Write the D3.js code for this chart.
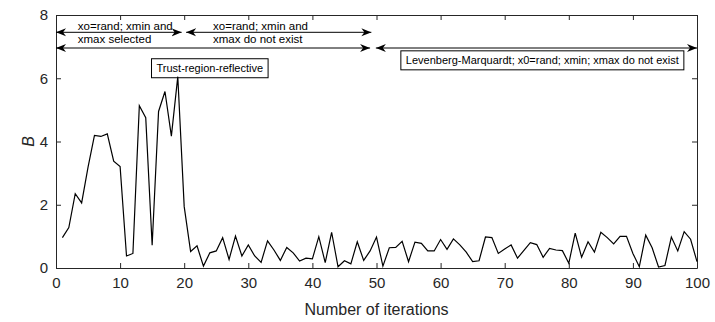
<!DOCTYPE html>
<html><head><meta charset="utf-8">
<script src="https://cdn.jsdelivr.net/npm/d3@7"></script>
<style>
body{margin:0;background:#fff;}
svg{display:block;font-family:"Liberation Sans",Arial,sans-serif;}
</style></head>
<body><svg id="c" width="715" height="322"></svg>
<script>
const iterations = d3.range(1, 101);
const Bvalues = [
0.96,1.28,2.35,2.06,3.19,4.19,4.16,4.24,3.38,3.21,
0.38,0.46,5.13,4.75,0.72,4.95,5.58,4.17,6.05,1.94,
0.52,0.70,0.06,0.48,0.54,0.96,0.27,1.01,0.38,0.73,
0.38,0.18,0.86,0.57,0.24,0.65,0.48,0.22,0.31,0.29,
0.99,0.17,1.13,0.04,0.23,0.13,0.83,0.24,0.54,0.98,
0.06,0.64,0.65,0.84,0.20,0.82,0.78,0.54,0.54,0.90,
0.59,0.92,0.73,0.50,0.20,0.23,0.98,0.96,0.46,0.60,
0.73,0.31,0.56,0.80,0.74,0.34,0.62,0.57,0.55,0.15,
1.10,0.34,0.83,0.50,1.13,0.96,0.76,1.00,1.00,0.46,
0.04,1.04,0.64,0.03,0.08,0.98,0.54,1.15,0.91,0.20];
const xTicks = [0,10,20,30,40,50,60,70,80,90,100];
const yTicks = [0,2,4,6,8];
const xLabel = "Number of iterations";
const yLabel = "B";
// annotation arrows: [from, to, row]
const arrowSpans = [[0,19.6,1],[20.3,49.2,1],[0,49.0,2],[49.9,100,2]];
const arrowTexts = [
  {x:3.4, lines:["xo=rand; xmin and","xmax selected"]},
  {x:24.5, lines:["xo=rand; xmin and","xmax do not exist"]}
];
const boxes = [
  {x:14.9, y:6.19, text:"Trust-region-reflective"},
  {x:53.8, y:6.44, text:"Levenberg-Marquardt; x0=rand; xmin; xmax do not exist"}
];

const svg = d3.select("#c");
const m = {l:56, r:18, t:15, b:54};
const W = 715, H = 322;
const x = d3.scaleLinear().domain([0,100]).range([m.l, W-m.r]);
const y = d3.scaleLinear().domain([0,8]).range([H-m.b, m.t]);

const defs = svg.append("defs");
defs.append("marker").attr("id","ah").attr("viewBox","0 0 10 10")
  .attr("refX",10).attr("refY",5).attr("markerWidth",10).attr("markerHeight",10)
  .attr("markerUnits","userSpaceOnUse").attr("orient","auto-start-reverse")
  .append("path").attr("d","M0,1 L10,5 L0,9 L3,5 Z").attr("fill","#000");

// axes
const ax = svg.append("g").attr("font-size",15).attr("fill","#262626");
const xb = d3.axisBottom(x).tickValues(xTicks).tickSizeInner(-5).tickSizeOuter(0).tickPadding(9);
ax.append("g").attr("transform",`translate(0,${H-m.b})`).call(xb);
const xt = d3.axisTop(x).tickValues(xTicks).tickSizeInner(-5).tickSizeOuter(0).tickFormat("");
ax.append("g").attr("transform",`translate(0,${m.t})`).call(xt);
const yl = d3.axisLeft(y).tickValues(yTicks).tickSizeInner(-5).tickSizeOuter(0).tickPadding(8);
ax.append("g").attr("transform",`translate(${m.l},0)`).call(yl);
const yr = d3.axisRight(y).tickValues(yTicks).tickSizeInner(-5).tickSizeOuter(0).tickFormat("");
ax.append("g").attr("transform",`translate(${W-m.r},0)`).call(yr);
svg.selectAll(".domain").attr("stroke","#262626").attr("stroke-width",1);
svg.selectAll(".tick line").attr("stroke","#262626");
svg.selectAll(".tick text").attr("fill","#262626").attr("font-size",15)
  .attr("font-family","'Liberation Sans',Arial,sans-serif");

svg.append("text").attr("x",(x(0)+x(100))/2).attr("y",315).attr("text-anchor","middle")
  .attr("font-size",16).attr("fill","#262626").text(xLabel);
svg.append("text").attr("transform",`translate(34,${y(4)}) rotate(-90)`).attr("text-anchor","middle")
  .attr("font-size",16).attr("font-style","italic").attr("fill","#262626").text(yLabel);

// data line
const line = d3.line().x((d,i)=>x(iterations[i])).y(d=>y(d));
svg.append("path").datum(Bvalues).attr("d",line).attr("fill","none")
  .attr("stroke","#000").attr("stroke-width",1.2).attr("stroke-linejoin","miter");

// annotations
const rowY = {1:32.3, 2:48};
arrowSpans.forEach(([a,b,r])=>{
  svg.append("line").attr("x1",x(a)).attr("x2",x(b)).attr("y1",rowY[r]).attr("y2",rowY[r])
    .attr("stroke","#000").attr("stroke-width",1)
    .attr("marker-start","url(#ah)").attr("marker-end","url(#ah)");
});
arrowTexts.forEach(t=>{
  t.lines.forEach((s,i)=>{
    svg.append("text").attr("x",x(t.x)).attr("y",i===0?29.5:43).attr("font-size",11.5)
      .attr("fill","#000").text(s);
  });
});
boxes.forEach(b=>{
  const g = svg.append("g");
  const tx = g.append("text").attr("x",x(b.x)+5).attr("y",y(b.y)).attr("font-size",11)
    .attr("fill","#000").text(b.text);
  const bb = tx.node().getBBox();
  g.insert("rect","text").attr("x",bb.x-5).attr("y",bb.y-3.5).attr("width",bb.width+10)
    .attr("height",bb.height+7).attr("fill","none").attr("stroke","#000").attr("stroke-width",1);
});
</script></body></html>
